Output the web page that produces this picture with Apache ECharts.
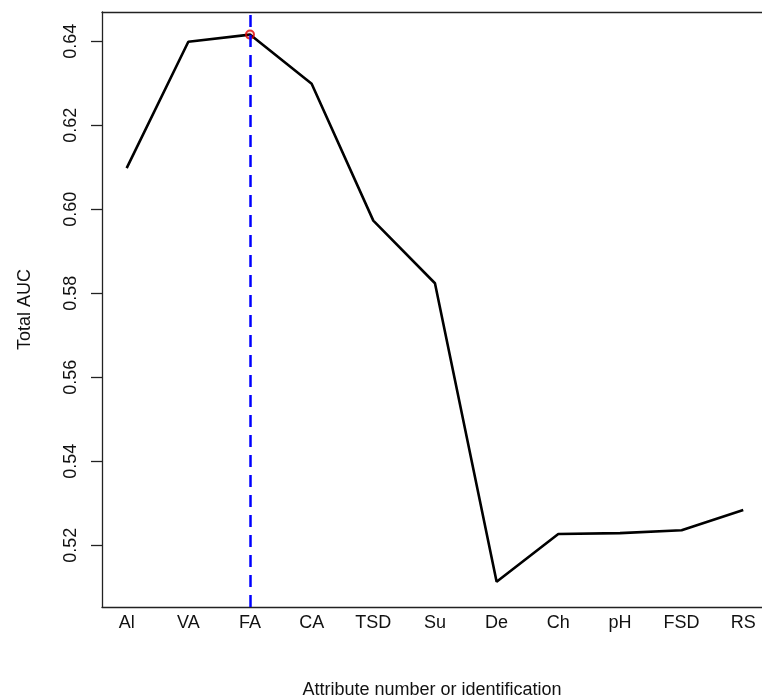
<!DOCTYPE html>
<html>
<head>
<meta charset="utf-8">
<script src="https://cdn.jsdelivr.net/npm/echarts@6/dist/echarts.min.js"></script>
<style>html,body{margin:0;padding:0;background:#fff;}#c{width:762px;height:700px;}</style>
</head>
<body>
<div id="c"></div>
<script>
const categories = ['Al','VA','FA','CA','TSD','Su','De','Ch','pH','FSD','RS'];
const aucValues = [0.6098, 0.6399, 0.6416, 0.6299, 0.5973, 0.5824, 0.5113, 0.5227, 0.5229, 0.5236, 0.5284];
const yTicks = [0.52, 0.54, 0.56, 0.58, 0.60, 0.62, 0.64];
const bestIndex = 3; // FA (1-based position)

const xTicks = categories.map((c, i) => i + 1);
const lineData = aucValues.map((v, i) => [i + 1, v]);

const chart = echarts.init(document.getElementById('c'), null, {renderer: 'canvas'});
const font = 'Liberation Sans, Arial, sans-serif';
const frame = {color: '#222', width: 1.3};
chart.setOption({
  animation: false,
  backgroundColor: '#fff',
  grid: {left: 102, top: 12, width: 660, height: 595, show: false, containLabel: false, outerBoundsMode: 'none'},
  xAxis: [{
    type: 'value', min: 0.6, max: 11.304, position: 'bottom',
    name: 'Attribute number or identification', nameLocation: 'middle', nameGap: 74,
    nameTextStyle: {fontFamily: font, fontSize: 18, color: '#111'},
    axisLine: {show: true, onZero: false, lineStyle: frame}, splitLine: {show: false},
    axisTick: {show: false, customValues: xTicks},
    axisLabel: {customValues: xTicks, formatter: v => categories[Math.round(v) - 1] || '', fontFamily: font, fontSize: 18, color: '#111', margin: 7}
  }, {
    type: 'value', min: 0.6, max: 11.304, position: 'top',
    axisLine: {show: true, onZero: false, lineStyle: frame}, splitLine: {show: false},
    axisTick: {show: false}, axisLabel: {show: false}
  }],
  yAxis: {
    type: 'value', min: 0.50531, max: 0.64698,
    name: 'Total AUC', nameLocation: 'middle', nameGap: 68, nameRotate: 90,
    nameTextStyle: {fontFamily: font, fontSize: 18, color: '#111'},
    axisLine: {show: true, onZero: false, lineStyle: frame}, splitLine: {show: false},
    axisTick: {show: true, inside: false, length: 11, customValues: yTicks, lineStyle: frame},
    axisLabel: {customValues: yTicks, rotate: 90, formatter: v => v.toFixed(2), fontFamily: font, fontSize: 18, color: '#111', margin: 22}
  },
  series: [
    {
      type: 'line', data: lineData, showSymbol: false, symbol: 'none',
      lineStyle: {color: '#000', width: 2.6}, z: 3,
      markLine: {
        silent: true, symbol: 'none', label: {show: false},
        lineStyle: {color: '#0000ff', width: 2.5, type: [12, 8]},
        data: [{xAxis: bestIndex}]
      }
    },
    {
      type: 'scatter', data: [[bestIndex, aucValues[bestIndex - 1]]], symbol: 'circle', symbolSize: 8,
      itemStyle: {color: 'rgba(255,0,0,0.15)', borderColor: '#e00000', borderWidth: 2}, z: 4
    }
  ]
});
</script>
</body>
</html>
